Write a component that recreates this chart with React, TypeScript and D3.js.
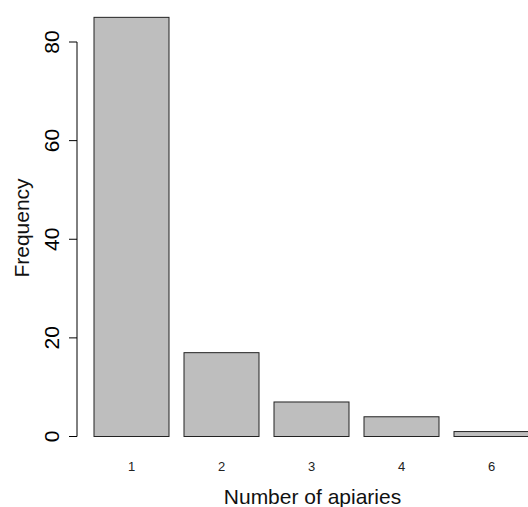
import React from "react";
import * as d3 from "d3";

// Frequency of farms by number of apiaries
const categories: string[] = ["1", "2", "3", "4", "6"];
const counts: number[] = [85, 17, 7, 4, 1];
const yTicks: number[] = [0, 20, 40, 60, 80];

const W = 528;
const H = 507;
const FONT = "'Liberation Sans', Arial, Helvetica, sans-serif";

export default function App() {
  // barplot units: each bar is 1 wide with 0.2 spacing before it
  const x = d3.scaleLinear().domain([0, 1]).range([79, 154]);
  const y = d3.scaleLinear().domain([0, 80]).range([436.5, 42]);
  const space = 0.2;
  const axisX = 77;

  const bars = counts.map((v, i) => {
    const left = space + i * (1 + space);
    return { v, label: categories[i], x0: x(left), x1: x(left + 1), cx: x(left + 0.5) };
  });

  return (
    <svg
      width={W}
      height={H}
      style={{ position: "absolute", left: 0, top: 0, background: "#fff" }}
      fontFamily={FONT}
    >
      {bars.map((b) => (
        <rect
          key={b.label}
          x={b.x0}
          y={y(b.v)}
          width={b.x1 - b.x0}
          height={y(0) - y(b.v)}
          fill="#bebebe"
          stroke="#222"
          strokeWidth={1}
        />
      ))}
      {bars.map((b) => (
        <text
          key={"l" + b.label}
          x={b.cx}
          y={471}
          textAnchor="middle"
          fontSize={13}
          fill="#222"
        >
          {b.label}
        </text>
      ))}
      {/* y axis */}
      <line x1={axisX} x2={axisX} y1={y(0)} y2={y(80)} stroke="#000" strokeWidth={1} />
      {yTicks.map((t) => (
        <g key={t}>
          <line x1={axisX - 8} x2={axisX} y1={y(t)} y2={y(t)} stroke="#000" strokeWidth={1} />
          <text
            transform={`translate(${59},${y(t)}) rotate(-90)`}
            textAnchor="middle"
            fontSize={21}
            fill="#000"
          >
            {t}
          </text>
        </g>
      ))}
      <text
        transform={`translate(${28.5},${228}) rotate(-90)`}
        textAnchor="middle"
        fontSize={21}
        fill="#111"
      >
        Frequency
      </text>
      <text x={312.5} y={503.5} textAnchor="middle" fontSize={21} fill="#111">
        Number of apiaries
      </text>
    </svg>
  );
}
